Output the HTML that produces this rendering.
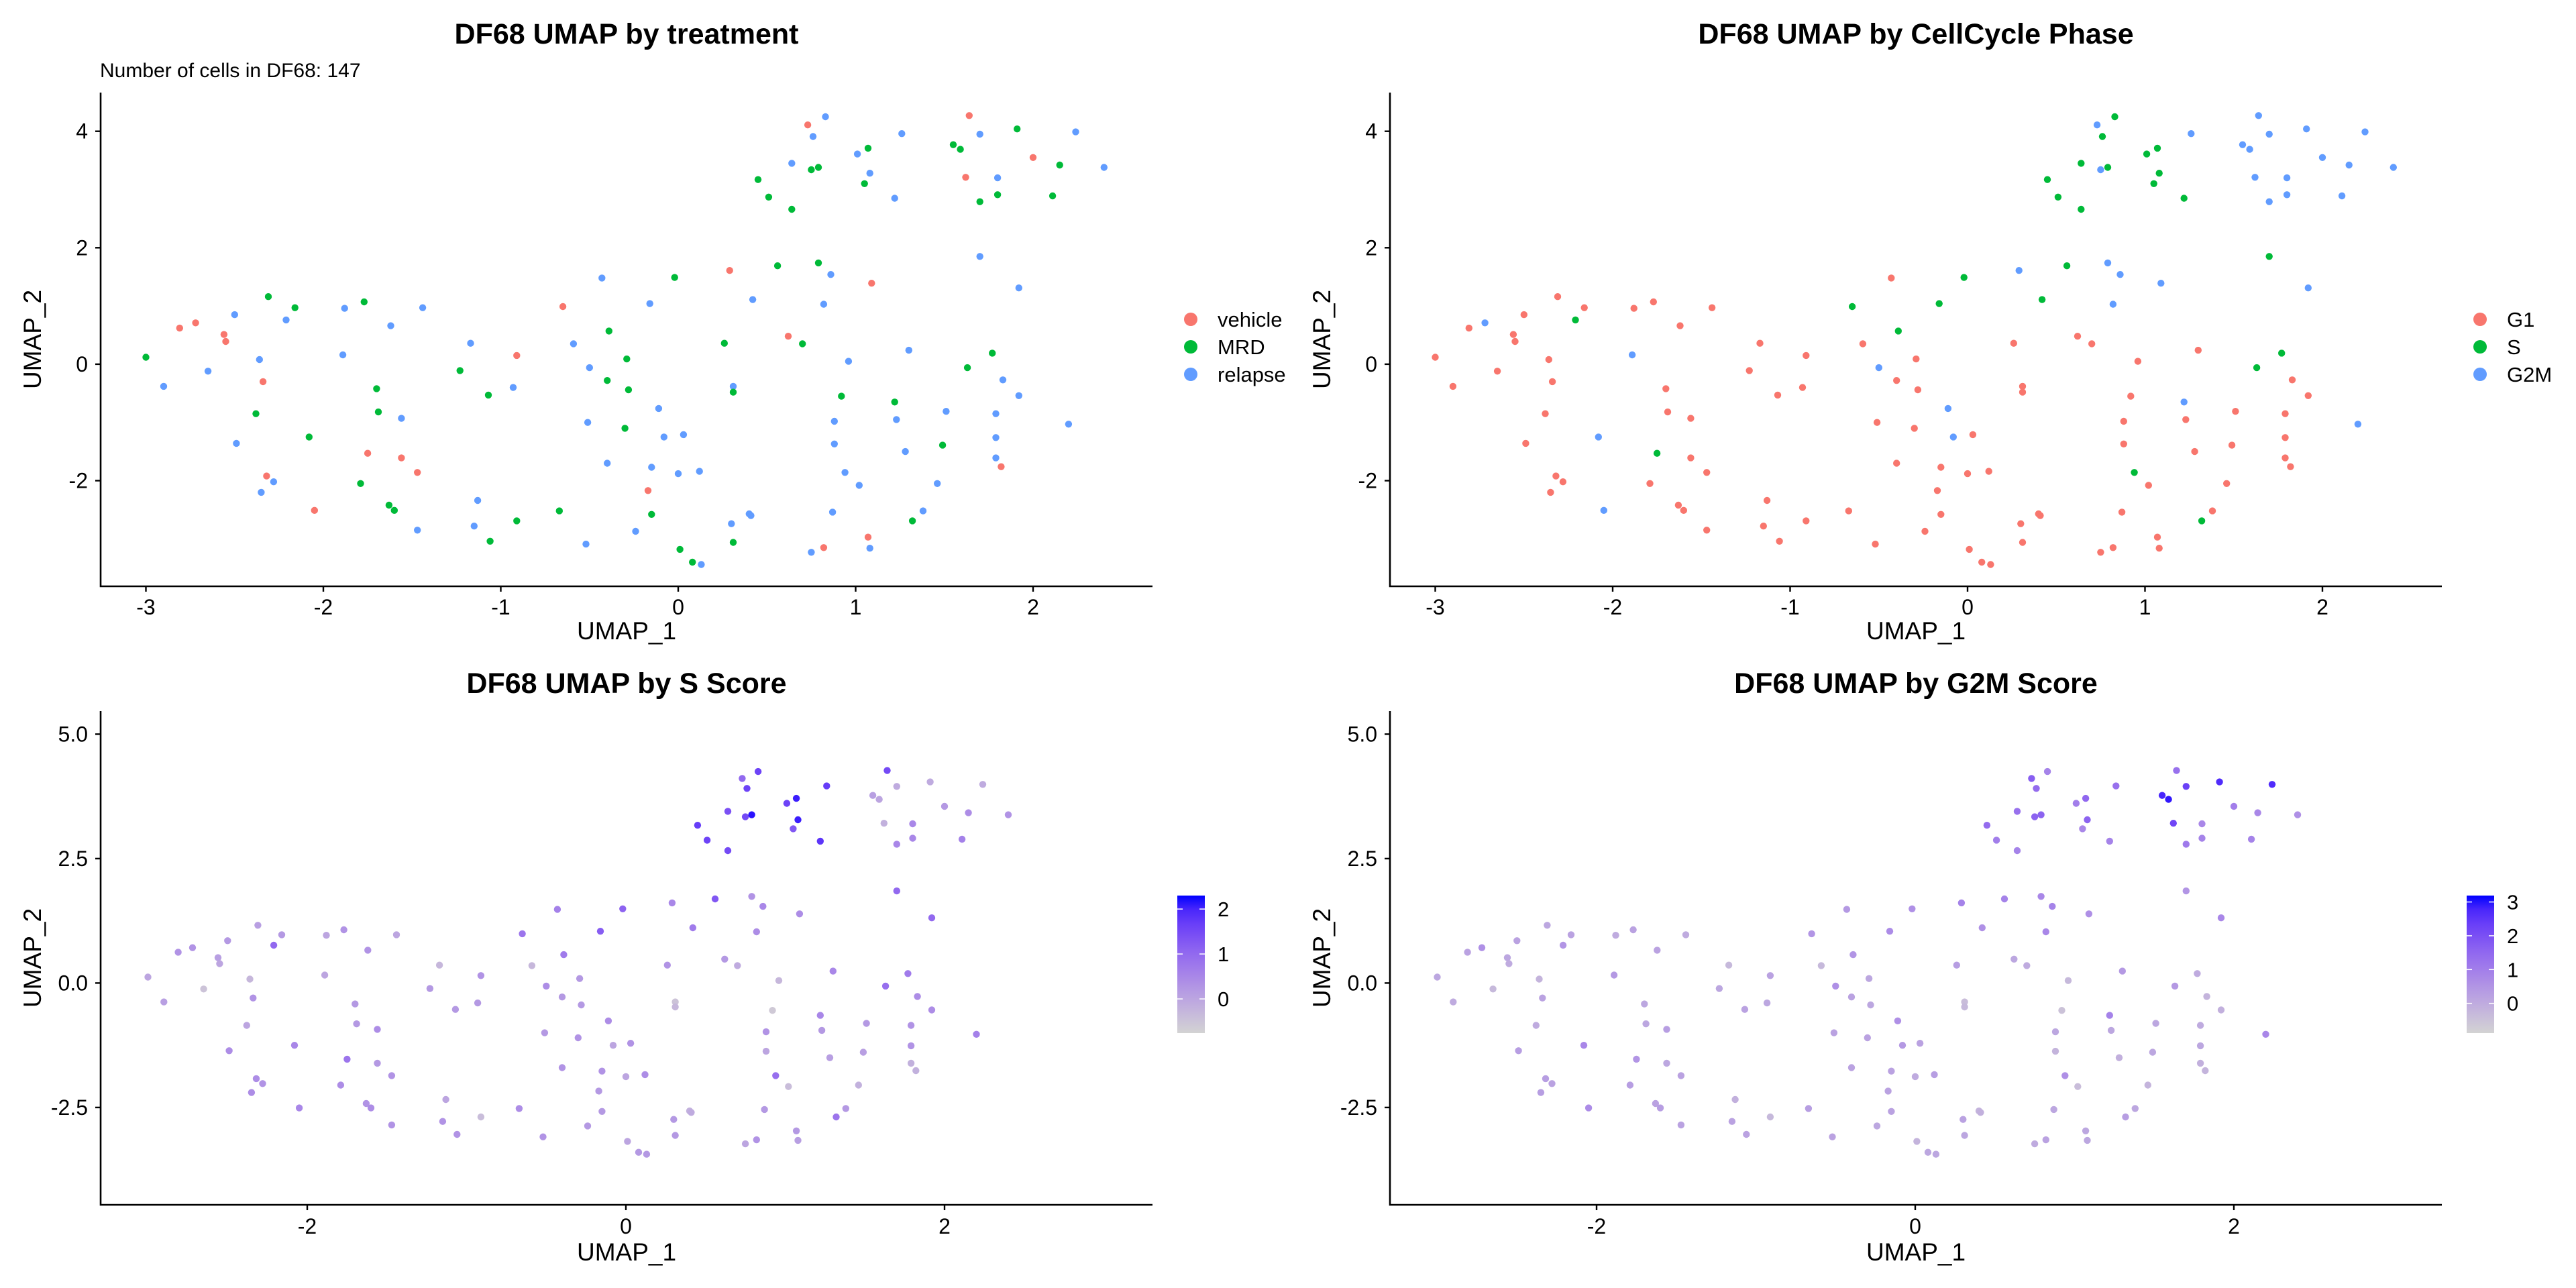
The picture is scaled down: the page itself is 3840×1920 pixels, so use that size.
<!DOCTYPE html>
<html><head><meta charset="utf-8">
<style>
html,body{margin:0;padding:0;background:#fff;}
svg{display:block;font-family:"Liberation Sans",Arial,sans-serif;}
</style></head>
<body>
<svg id="fig" width="3840" height="1920" viewBox="0 0 3840 1920" xmlns="http://www.w3.org/2000/svg">
<defs>
<linearGradient id="gradS" x1="0" y1="1" x2="0" y2="0"></linearGradient>
<linearGradient id="gradG" x1="0" y1="1" x2="0" y2="0"></linearGradient>
</defs>
</svg>
<script>
// ---- data (one entry per cell) ----
const umap1 = [-3.00,-2.90,-2.81,-2.72,-2.65,-2.56,-2.55,-2.50,-2.49,-2.38,-2.36,-2.34,-2.32,-2.31,-2.35,-2.28,-2.21,-2.16,-2.08,-2.05,-1.89,-1.88,-1.79,-1.77,-1.75,-1.70,-1.69,-1.63,-1.60,-1.62,-1.56,-1.56,-1.47,-1.47,-1.44,-1.23,-1.17,-1.15,-1.13,-1.07,-1.06,-0.93,-0.91,-0.91,-0.67,-0.65,-0.59,-0.52,-0.51,-0.50,-0.43,-0.40,-0.40,-0.39,-0.30,-0.29,-0.28,-0.24,-0.17,-0.16,-0.15,-0.15,-0.11,-0.08,-0.02,0.00,0.01,0.03,0.08,
0.12,0.13,0.26,0.29,0.30,0.31,0.31,0.31,0.40,0.41,0.42,0.45,0.51,0.56,0.62,0.64,0.64,0.70,0.73,0.75,0.75,0.76,0.79,0.79,0.82,0.82,0.83,0.86,0.87,0.88,0.88,0.92,0.94,0.96,1.01,1.02,1.05,1.07,1.07,1.08,1.08,1.09,1.22,1.22,1.23,1.26,1.28,1.30,1.32,1.38,1.46,1.49,1.51,1.55,1.59,1.62,1.63,1.64,1.70,1.70,1.70,1.77,1.79,1.79,1.79,1.80,1.80,1.82,1.83,1.91,1.92,1.92,2.00,2.11,2.15,2.20,2.24,2.40];
const umap2 = [0.12,-0.38,0.62,0.71,-0.12,0.51,0.39,0.85,-1.36,-0.85,0.08,-0.30,-1.92,1.16,-2.20,-2.02,0.76,0.97,-1.25,-2.51,0.16,0.96,-2.05,1.07,-1.53,-0.42,-0.82,-2.42,-2.51,0.66,-1.61,-0.93,-1.86,-2.85,0.97,-0.11,0.36,-2.78,-2.34,-0.53,-3.04,-0.40,-2.69,0.15,-2.52,0.99,0.35,-3.09,-1.00,-0.06,1.48,-0.28,-1.70,0.57,-1.10,0.09,-0.44,-2.87,-2.17,1.04,-1.77,-2.58,-0.76,-1.25,1.49,-1.88,-3.18,-1.21,-3.40,
-1.84,-3.44,0.36,1.61,-2.74,-3.06,-0.38,-0.48,-2.57,-2.60,1.11,3.17,2.87,1.69,0.48,3.45,2.66,0.35,4.11,3.34,-3.23,3.91,1.74,3.38,-3.15,1.03,4.25,1.54,-2.54,-1.37,-0.98,-0.55,-1.86,0.05,3.61,-2.08,3.10,-2.97,3.71,-3.16,3.28,1.39,2.85,-0.65,-0.95,3.96,-1.50,0.24,-2.69,-2.52,-2.05,-1.39,-0.81,3.77,3.69,3.21,-0.06,4.27,1.85,3.95,2.79,0.19,-0.85,-1.26,-1.61,3.20,2.91,-1.76,-0.27,4.04,1.31,-0.54,3.55,2.89,3.42,-1.03,3.99,3.38];
const treatment = ["M","R","V","V","R","V","V","R","R","M","R","V","V","M","R","R","R","M","M","V","R","R","M","M","V","M","M","M","M","R","V","R","V","R","R","M","R","R","R","M","M","R","M","V","M","V","R","R","R","R","R","M","R","M","M","M","M","R","V","R","R","M","R","R","M","R","M","R","M",
"R","R","M","V","R","M","R","M","R","R","R","M","M","M","V","R","M","M","V","M","R","R","M","M","V","R","R","R","R","R","R","M","R","R","R","R","M","V","M","R","R","V","R","M","R","R","R","R","M","R","R","M","R","M","M","V","M","V","R","R","M","M","R","R","R","R","M","V","R","M","R","R","V","M","M","R","R","R"];
const phase = ["G1","G1","G1","G2M","G1","G1","G1","G1","G1","G1","G1","G1","G1","G1","G1","G1","S","G1","G2M","G2M","G2M","G1","G1","G1","S","G1","G1","G1","G1","G1","G1","G1","G1","G1","G1","G1","G1","G1","G1","G1","G1","G1","G1","G1","G1","S","G1","G1","G1","G2M","G1","G1","G1","S","G1","G1","G1","G1","G1","S","G1","G1","G2M","G2M","S","G1","G1","G1","G1",
"G1","G1","G1","G2M","G1","G1","G1","G1","G1","G1","S","S","S","S","G1","S","S","G1","G2M","G2M","G1","S","G2M","S","G1","G2M","S","G2M","G1","G1","G1","G1","S","G1","S","G1","S","G1","S","G1","S","G2M","S","G2M","G1","G2M","G1","G1","S","G1","G1","G1","G1","G2M","G2M","G2M","S","G2M","S","G2M","G2M","S","G1","G1","G1","G2M","G2M","G1","G1","G2M","G2M","G1","G2M","G2M","G2M","G2M","G2M","G2M"];
const sScore = [0.0,0.1,0.3,0.3,-0.5,0.1,0.0,0.2,0.4,0.0,-0.3,0.3,0.4,0.1,0.4,0.3,1.0,0.2,0.5,0.5,0.0,0.0,0.4,0.3,0.8,0.2,0.2,0.3,0.4,0.3,0.2,0.4,0.3,0.3,0.0,0.2,-0.3,0.3,0.0,0.2,0.3,0.2,-0.4,0.3,0.4,0.8,-0.3,0.3,0.2,0.4,0.6,0.2,0.3,0.7,0.3,0.2,0.2,0.2,0.2,1.2,0.3,0.2,0.4,0.0,1.1,0.0,0.0,0.3,0.2,
0.4,0.2,0.3,0.5,0.2,0.2,-0.5,-0.3,-0.2,-0.1,0.7,1.7,1.6,1.3,0.2,1.4,1.5,-0.1,1.0,1.5,0.0,1.6,0.3,2.2,0.3,0.4,1.6,0.5,0.2,0.0,0.3,-0.6,0.9,-0.3,1.6,-0.4,1.3,0.2,2.1,0.1,2.1,0.4,1.8,0.5,0.2,1.7,0.1,0.5,0.8,0.2,-0.2,0.1,0.2,0.1,0.0,-0.2,0.9,1.5,1.0,-0.1,0.5,0.7,0.3,0.3,-0.2,0.5,0.5,-0.2,0.4,-0.1,1.0,0.4,0.2,0.6,0.4,0.6,-0.1,0.3];
const g2mScore = [0.1,0.0,0.2,0.6,-0.3,0.1,0.0,0.2,0.3,0.0,-0.2,0.2,0.3,0.1,0.3,0.2,0.5,0.2,0.8,0.7,0.4,0.0,0.3,0.2,0.5,0.1,0.1,0.2,0.3,0.2,0.1,0.3,0.2,0.2,0.0,0.1,-0.3,0.2,-0.1,0.2,0.2,0.1,-0.3,0.2,0.3,0.5,-0.3,0.2,0.2,0.6,0.4,0.2,0.2,0.5,0.2,0.1,0.1,0.1,0.2,0.7,0.2,0.2,0.6,0.4,0.6,0.0,-0.2,0.2,0.1,
0.3,0.1,0.3,0.9,0.2,0.1,-0.4,-0.3,-0.2,-0.1,0.6,1.4,1.0,0.9,0.1,1.3,0.9,0.0,1.7,1.6,0.0,1.4,0.8,1.6,0.2,0.8,0.9,0.9,0.1,-0.2,0.1,-0.5,0.6,-0.3,1.0,-0.4,0.8,0.1,1.5,0.1,1.6,0.6,0.9,0.9,0.1,1.3,-0.1,0.4,0.3,0.1,-0.2,0.1,0.1,2.8,3.0,2.2,0.4,1.3,0.5,2.3,1.1,0.0,0.0,0.1,-0.1,0.8,0.9,-0.2,-0.2,2.7,0.8,-0.1,1.0,0.9,0.8,0.8,2.7,0.6];

const treatLevels = ["V","M","R"];
const treatLabels = ["vehicle","MRD","relapse"];
const phaseLevels = ["G1","S","G2M"];
const topXTicks = [-3,-2,-1,0,1,2];
const topYTicks = [-2,0,2,4];
const botXTicks = [-2,0,2];
const botYTicks = [-2.5,0,2.5,5];
const botYTickLabels = ["-2.5","0.0","2.5","5.0"];
const sTicks = [0,1,2];
const g2mTicks = [0,1,2,3];
const sLimits = [-0.76,2.3];
const g2mLimits = [-0.88,3.19];

const cat3 = ["#F8766D","#00BA38","#619CFF"];
const NS="http://www.w3.org/2000/svg";
const svg=document.getElementById('fig');

function mk(tag,attrs,parent,txt){const e=document.createElementNS(NS,tag);for(const k in attrs)e.setAttribute(k,attrs[k]);if(txt!==undefined)e.textContent=txt;(parent||svg).appendChild(e);return e;}

// Lab interpolation lightgrey -> blue
function s2l(c){c/=255;return c<=0.04045?c/12.92:Math.pow((c+0.055)/1.055,2.4);}
function l2s(c){c=c<=0.0031308?12.92*c:1.055*Math.pow(c,1/2.4)-0.055;return Math.max(0,Math.min(255,Math.round(c*255)));}
function toLab(r,g,b){r=s2l(r);g=s2l(g);b=s2l(b);let X=(0.4124*r+0.3576*g+0.1805*b)/0.95047,Y=(0.2126*r+0.7152*g+0.0722*b),Z=(0.0193*r+0.1192*g+0.9505*b)/1.08883;const f=t=>t>0.008856?Math.cbrt(t):7.787*t+16/116;X=f(X);Y=f(Y);Z=f(Z);return[116*Y-16,500*(X-Y),200*(Y-Z)];}
function fromLab(L,a,b){let Y=(L+16)/116,X=a/500+Y,Z=Y-b/200;const fi=t=>t*t*t>0.008856?t*t*t:(t-16/116)/7.787;X=fi(X)*0.95047;Y=fi(Y);Z=fi(Z)*1.08883;const r=3.2406*X-1.5372*Y-0.4986*Z,g=-0.9689*X+1.8758*Y+0.0415*Z,bb=0.0557*X-0.2040*Y+1.0570*Z;return `rgb(${l2s(r)},${l2s(g)},${l2s(bb)})`;}
const labA=toLab(211,211,211),labB=toLab(0,0,255);
function grad(t){t=Math.max(0,Math.min(1,t));return fromLab(labA[0]+(labB[0]-labA[0])*t,labA[1]+(labB[1]-labA[1])*t,labA[2]+(labB[2]-labA[2])*t);}

// panel geometry
const panels=[
 {dx:0,   top:true, title:"DF68 UMAP by treatment", kind:"treat", name:"treatment-panel"},
 {dx:1922,top:true, title:"DF68 UMAP by CellCycle Phase", kind:"phase", name:"phase-panel"},
 {dx:0,   top:false,title:"DF68 UMAP by S Score", kind:"s", name:"s-score-panel"},
 {dx:1922,top:false,title:"DF68 UMAP by G2M Score", kind:"g2m", name:"g2m-score-panel"}
];

panels.forEach(p=>{
  const g=mk('g',{});
  
  
  const L=150+p.dx,R=1718+p.dx;
  let T,B,xs,ys,xt,yt,ytl,titleY;
  if(p.top){T=138;B=874;xs=v=>1011+p.dx+264.5*v;ys=v=>542.9-86.8*v;xt=topXTicks;yt=topYTicks;ytl=topYTicks.map(String);titleY=65;}
  else{T=1060;B=1796;xs=v=>933+p.dx+237.5*v;ys=v=>1465.4-74.2*v;xt=botXTicks;yt=botYTicks;ytl=botYTickLabels;titleY=1033;}
  const tt=mk('text',{x:934+p.dx,y:titleY,'text-anchor':'middle','font-size':43,'font-weight':'bold',fill:'#000'},g,p.title);
  
  
  if(p.kind==="treat"){
    const st=mk('text',{x:149,y:115,'font-size':30,fill:'#000'},g,"Number of cells in DF68: 147");
    
    
  }
  // points
  const pg=mk('g',{},g);
  
  
  for(let i=0;i<umap1.length;i++){
    let col;
    if(p.kind==="treat")col=cat3[treatLevels.indexOf(treatment[i])];
    else if(p.kind==="phase")col=cat3[phaseLevels.indexOf(phase[i])];
    else if(p.kind==="s")col=grad((sScore[i]-sLimits[0])/(sLimits[1]-sLimits[0]));
    else col=grad((g2mScore[i]-g2mLimits[0])/(g2mLimits[1]-g2mLimits[0]));
    const c=mk('circle',{cx:xs(umap1[i]).toFixed(1),cy:ys(umap2[i]).toFixed(1),r:5.2,fill:col},pg);
    
    
  }
  // axes
  const ax=mk('path',{d:`M${L},${T}V${B}H${R}`,stroke:'#000','stroke-width':2.6,fill:'none'},g);
  
  
  xt.forEach(v=>{
    const x=xs(v);
    mk('line',{x1:x,x2:x,y1:B,y2:B+8,stroke:'#000','stroke-width':2.4},g);
    const t=mk('text',{x:x,y:p.top?916:1839,'text-anchor':'middle','font-size':32,fill:'#000'},g,String(v));
    
    
  });
  yt.forEach((v,k)=>{
    const y=ys(v);
    mk('line',{x1:L-8,x2:L,y1:y,y2:y,stroke:'#000','stroke-width':2.4},g);
    const t=mk('text',{x:131+p.dx,y:y+11,'text-anchor':'end','font-size':32,fill:'#000'},g,ytl[k]);
    
    
  });
  const xl=mk('text',{x:934+p.dx,y:p.top?953:1879,'text-anchor':'middle','font-size':37,fill:'#000'},g,"UMAP_1");
  
  
  const cy=(T+B)/2;
  const yl=mk('text',{x:61+p.dx,y:cy,'text-anchor':'middle','font-size':37,fill:'#000',transform:`rotate(-90 ${61+p.dx} ${cy})`},g,"UMAP_2");
  
  
  // legends
  if(p.kind==="treat"||p.kind==="phase"){
    const labels=p.kind==="treat"?treatLabels:phaseLevels;
    labels.forEach((lab,k)=>{
      const y=476+k*41;
      const lg=mk('g',{},g);
      
      
      mk('circle',{cx:1775+p.dx,cy:y,r:10,fill:cat3[k]},lg);
      mk('text',{x:1815+p.dx,y:y+11,'font-size':31,fill:'#000'},lg,lab);
    });
  } else {
    const lim=p.kind==="s"?sLimits:g2mLimits, ticks=p.kind==="s"?sTicks:g2mTicks, gid=p.kind==="s"?"gradS":"gradG";
    const gr=document.getElementById(gid);
    for(let k=0;k<=10;k++){mk('stop',{offset:(k/10),'stop-color':grad(k/10)},gr);}
    const cb=mk('g',{},g);
    
    
    const y0=1540,y1=1335,bx=1755+p.dx,bw=41;
    mk('rect',{x:bx,y:y1,width:bw,height:y0-y1,fill:`url(#${gid})`},cb);
    const sc=v=>y0-(v-lim[0])/(lim[1]-lim[0])*(y0-y1);
    ticks.forEach(v=>{
      const y=sc(v);
      mk('line',{x1:bx,x2:bx+8,y1:y,y2:y,stroke:'#fff','stroke-width':1.5},cb);
      mk('line',{x1:bx+bw-8,x2:bx+bw,y1:y,y2:y,stroke:'#fff','stroke-width':1.5},cb);
      const t=mk('text',{x:1815+p.dx,y:y+11,'font-size':31,fill:'#000'},cb,String(v));
      
      
    });
  }
});
</script>
</body></html>
